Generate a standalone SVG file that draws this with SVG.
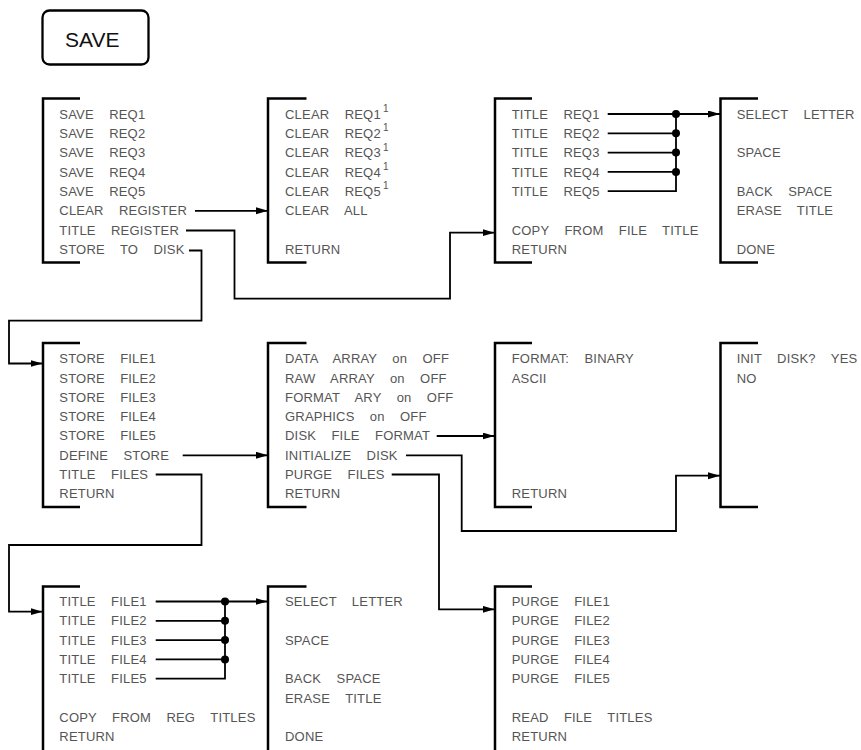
<svg xmlns="http://www.w3.org/2000/svg" width="861" height="750" viewBox="0 0 861 750">
<defs>
<marker id="ah" markerWidth="13" markerHeight="8" refX="12" refY="3.5" orient="auto" markerUnits="userSpaceOnUse">
<path d="M0,0 L12,3.5 L0,7 z" fill="#000"/>
</marker>
<style>
.t{font-family:"Liberation Sans",Arial,sans-serif;font-size:13px;fill:#555;word-spacing:11.5px;letter-spacing:0.2px}
.sup{font-family:"Liberation Sans",Arial,sans-serif;font-size:10px;fill:#555}
.br{fill:none;stroke:#000;stroke-width:2.5}
.c{fill:none;stroke:#000;stroke-width:1.8}
.a{marker-end:url(#ah)}
.dot{fill:#000}
</style>
</defs>
<rect width="861" height="750" fill="#fff"/>

<g id="save-key">
<rect x="42.5" y="10.5" width="106" height="54" rx="7" fill="none" stroke="#000" stroke-width="2.3"/>
<text x="65" y="47" style="font-family:'Liberation Sans',Arial,sans-serif;font-size:21px;fill:#111">SAVE</text>
</g>

<g id="menu-save">
<path class="br" d="M80,98.5 H43 V262.5 H80"/>
<text class="t" x="59.3" y="118.7">SAVE REQ1</text>
<text class="t" x="59.3" y="138">SAVE REQ2</text>
<text class="t" x="59.3" y="157.3">SAVE REQ3</text>
<text class="t" x="59.3" y="176.6">SAVE REQ4</text>
<text class="t" x="59.3" y="195.9">SAVE REQ5</text>
<text class="t" x="59.3" y="215.2">CLEAR REGISTER</text>
<text class="t" x="59.3" y="234.5">TITLE REGISTER</text>
<text class="t" x="59.3" y="253.8">STORE TO DISK</text>
</g>

<g id="menu-clear">
<path class="br" d="M306.5,98.5 H268 V262.5 H306.5"/>
<text class="t" x="285" y="118.7">CLEAR REQ1</text><text class="sup" x="383" y="112">1</text>
<text class="t" x="285" y="138">CLEAR REQ2</text><text class="sup" x="383" y="131.3">1</text>
<text class="t" x="285" y="157.3">CLEAR REQ3</text><text class="sup" x="383" y="150.6">1</text>
<text class="t" x="285" y="176.6">CLEAR REQ4</text><text class="sup" x="383" y="169.9">1</text>
<text class="t" x="285" y="195.9">CLEAR REQ5</text><text class="sup" x="383" y="189.2">1</text>
<text class="t" x="285" y="215.2">CLEAR ALL</text>
<text class="t" x="285" y="253.8">RETURN</text>
</g>

<g id="menu-title-reg">
<path class="br" d="M532,98.5 H495 V262.5 H532"/>
<text class="t" x="511.7" y="118.7">TITLE REQ1</text>
<text class="t" x="511.7" y="138">TITLE REQ2</text>
<text class="t" x="511.7" y="157.3">TITLE REQ3</text>
<text class="t" x="511.7" y="176.6">TITLE REQ4</text>
<text class="t" x="511.7" y="195.9">TITLE REQ5</text>
<text class="t" x="511.7" y="234.5">COPY FROM FILE TITLE</text>
<text class="t" x="511.7" y="253.8">RETURN</text>
</g>

<g id="menu-letter-1">
<path class="br" d="M758,98.5 H720.5 V262.5 H758"/>
<text class="t" x="736.7" y="118.7">SELECT LETTER</text>
<text class="t" x="736.7" y="157.3">SPACE</text>
<text class="t" x="736.7" y="195.9">BACK SPACE</text>
<text class="t" x="736.7" y="215.2">ERASE TITLE</text>
<text class="t" x="736.7" y="253.8">DONE</text>
</g>

<g id="menu-store">
<path class="br" d="M80,343 H43 V507 H80"/>
<text class="t" x="59.3" y="363.2">STORE FILE1</text>
<text class="t" x="59.3" y="382.5">STORE FILE2</text>
<text class="t" x="59.3" y="401.8">STORE FILE3</text>
<text class="t" x="59.3" y="421.1">STORE FILE4</text>
<text class="t" x="59.3" y="440.4">STORE FILE5</text>
<text class="t" x="59.3" y="459.7">DEFINE STORE</text>
<text class="t" x="59.3" y="479">TITLE FILES</text>
<text class="t" x="59.3" y="498.3">RETURN</text>
</g>

<g id="menu-define">
<path class="br" d="M306.5,343 H268 V507 H306.5"/>
<text class="t" x="285" y="363.2">DATA ARRAY on OFF</text>
<text class="t" x="285" y="382.5">RAW ARRAY on OFF</text>
<text class="t" x="285" y="401.8">FORMAT ARY on OFF</text>
<text class="t" x="285" y="421.1">GRAPHICS on OFF</text>
<text class="t" x="285" y="440.4">DISK FILE FORMAT</text>
<text class="t" x="285" y="459.7">INITIALIZE DISK</text>
<text class="t" x="285" y="479">PURGE FILES</text>
<text class="t" x="285" y="498.3">RETURN</text>
</g>

<g id="menu-format">
<path class="br" d="M532,343 H495 V507 H532"/>
<text class="t" x="511.7" y="363.2">FORMAT: BINARY</text>
<text class="t" x="511.7" y="382.5">ASCII</text>
<text class="t" x="511.7" y="498.3">RETURN</text>
</g>

<g id="menu-init">
<path class="br" d="M758,343 H720.5 V507 H758"/>
<text class="t" x="736.7" y="363.2">INIT DISK? YES</text>
<text class="t" x="736.7" y="382.5">NO</text>
</g>

<g id="menu-title-files">
<path class="br" d="M80,586.5 H43 V750"/>
<text class="t" x="59.3" y="606">TITLE FILE1</text>
<text class="t" x="59.3" y="625.3">TITLE FILE2</text>
<text class="t" x="59.3" y="644.6">TITLE FILE3</text>
<text class="t" x="59.3" y="663.9">TITLE FILE4</text>
<text class="t" x="59.3" y="683.2">TITLE FILE5</text>
<text class="t" x="59.3" y="721.8">COPY FROM REG TITLES</text>
<text class="t" x="59.3" y="741.1">RETURN</text>
</g>

<g id="menu-letter-2">
<path class="br" d="M306.5,586.5 H268 V750"/>
<text class="t" x="285" y="606">SELECT LETTER</text>
<text class="t" x="285" y="644.6">SPACE</text>
<text class="t" x="285" y="683.2">BACK SPACE</text>
<text class="t" x="285" y="702.5">ERASE TITLE</text>
<text class="t" x="285" y="741.1">DONE</text>
</g>

<g id="menu-purge">
<path class="br" d="M532,586.5 H495 V750"/>
<text class="t" x="511.7" y="606">PURGE FILE1</text>
<text class="t" x="511.7" y="625.3">PURGE FILE2</text>
<text class="t" x="511.7" y="644.6">PURGE FILE3</text>
<text class="t" x="511.7" y="663.9">PURGE FILE4</text>
<text class="t" x="511.7" y="683.2">PURGE FILE5</text>
<text class="t" x="511.7" y="721.8">READ FILE TITLES</text>
<text class="t" x="511.7" y="741.1">RETURN</text>
</g>

<g id="connectors">
<path class="c a" d="M195,210.8 H268"/>
<path class="c a" d="M186,230.5 H234.5 V298.7 H450 V232.7 H494.5"/>
<path class="c a" d="M189,250.5 H201.5 V320.7 H9 V363.5 H42.5"/>

<path class="c" d="M607.7,114 H676 M607.7,133.3 H676 M607.7,152.6 H676 M607.7,171.9 H676 M607.7,191.2 H676 V114"/>
<path class="c a" d="M676,114 H720"/>
<circle class="dot" cx="676" cy="114" r="4"/>
<circle class="dot" cx="676" cy="133.3" r="4"/>
<circle class="dot" cx="676" cy="152.6" r="4"/>
<circle class="dot" cx="676" cy="171.9" r="4"/>

<path class="c a" d="M182.7,455.3 H268"/>
<path class="c a" d="M155.7,474.5 H201.5 V545 H9 V611.7 H42.5"/>
<path class="c a" d="M436.7,436 H494.5"/>
<path class="c a" d="M406,455.3 H461.7 V531 H676 V475.7 H720"/>
<path class="c a" d="M391.7,474.5 H439 V609.3 H494.5"/>

<path class="c" d="M155.7,601.5 H225 M155.7,620.8 H225 M155.7,640.1 H225 M155.7,659.4 H225 M155.7,678.7 H225 V601.5"/>
<path class="c a" d="M225,601.5 H267.5"/>
<circle class="dot" cx="225" cy="601.5" r="4"/>
<circle class="dot" cx="225" cy="620.8" r="4"/>
<circle class="dot" cx="225" cy="640.1" r="4"/>
<circle class="dot" cx="225" cy="659.4" r="4"/>
</g>
</svg>
